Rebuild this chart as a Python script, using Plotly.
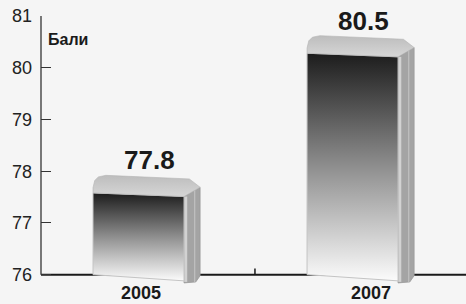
import plotly.graph_objects as go

categories = ["2005", "2007"]
values = [77.8, 80.5]
y_ticks = [76, 77, 78, 79, 80, 81]
y_title = "Бали"

FONT = "Liberation Sans"
BG = "#f5f5f5"

# style constants (geometry in axis units)
HALF_W = 0.2126
SIDE_W = 0.075
FRONT_DROP = 0.22
CAP_RISE = 0.12
SLANT = 0.07
BASE = 76.0

fig = go.Figure()

for i, (cat, v) in enumerate(zip(categories, values)):
    c = i
    fl, fr = c - HALF_W, c + HALF_W
    sr = fr + SIDE_W
    ft = v - FRONT_DROP
    ftr = ft - SLANT
    ct = v + CAP_RISE
    ctr = ct - SLANT
    bl, br = BASE, BASE - 0.12

    # side panel
    sx = [fr, fr, sr, sr, sr - 0.02, fr, fr]
    sy = [br, ftr, ctr - 0.16, BASE - 0.02, BASE - 0.14, BASE - 0.16, br]
    fig.add_trace(go.Scatter(x=sx, y=sy, fill="toself", mode="lines",
                             fillcolor="#a4a4a4", line=dict(color="#9a9a9a", width=0.8),
                             hoverinfo="skip", showlegend=False))
    # light strips on the side
    fig.add_trace(go.Scatter(x=[fr + 0.008, fr + 0.008], y=[BASE - 0.14, ftr],
                             mode="lines", line=dict(color="#d2d2d2", width=3),
                             hoverinfo="skip", showlegend=False))
    fig.add_trace(go.Scatter(x=[fr + 0.05, fr + 0.05], y=[BASE - 0.15, ctr - 0.2],
                             mode="lines", line=dict(color="#c6c6c6", width=1),
                             hoverinfo="skip", showlegend=False))

    # front face with vertical gradient
    fx = [fl, fl, fr, fr, fl]
    fy = [bl, ft, ftr, br, bl]
    fig.add_trace(go.Scatter(x=fx, y=fy, fill="toself", mode="lines",
                             line=dict(color="#c4c4c4", width=1),
                             fillgradient=dict(type="vertical", start=br, stop=ft,
                                               colorscale=[[0, "#fbfbfb"], [0.45, "#9a9a9a"],
                                                           [1, "#1c1c1c"]]),
                             hoverinfo="skip", showlegend=False))

    # top cap
    cx = [fl, fl, fl + 0.008, fl + 0.025, fl + 0.06, sr - 0.05, sr, fr, fl]
    cy = [ft, ft + 0.1, ct - 0.1, ct - 0.03, ct, ctr, ctr - 0.16, ftr, ft]
    fig.add_trace(go.Scatter(x=cx, y=cy, fill="toself", mode="lines",
                             line=dict(color="#b4b4b4", width=0.6),
                             fillgradient=dict(type="vertical", start=ftr, stop=ct,
                                               colorscale=[[0, "#d6d6d6"], [1, "#bdbdbd"]]),
                             hoverinfo="skip", showlegend=False))

    # value label
    fig.add_annotation(x=c, y=ct, text=f"<b>{v}</b>", showarrow=False,
                       xanchor="center", yanchor="bottom", xshift=11, yshift=-2,
                       font=dict(family=FONT, size=26, color="#1a1a1a"))

label_xshift = [2, 18]
for i, cat in enumerate(categories):
    fig.add_annotation(x=i, y=0, yref="paper", text=f"<b>{cat}</b>", showarrow=False,
                       xanchor="center", yanchor="middle", xshift=label_xshift[i], yshift=-8,
                       borderpad=0,
                       font=dict(family=FONT, size=18, color="#1a1a1a"))

fig.add_annotation(x=0, xref="paper", y=80.55, text=f"<b>{y_title}</b>", showarrow=False,
                   xanchor="left", yanchor="middle", xshift=5,
                   font=dict(family=FONT, size=16, color="#1a1a1a"))

# axis lines
fig.add_shape(type="line", xref="paper", x0=0, x1=1, yref="y", y0=BASE, y1=BASE,
              line=dict(color="#1a1a1a", width=2), layer="below")
fig.add_shape(type="line", xref="paper", x0=0, x1=0, yref="y", y0=BASE, y1=81,
              line=dict(color="#333333", width=1.3), layer="below")
fig.add_shape(type="line", x0=0.544, x1=0.544, yref="y", y0=BASE, y1=BASE + 0.12,
              line=dict(color="#1a1a1a", width=1.5), layer="below")

fig.update_layout(
    width=466, height=304,
    margin=dict(l=41, r=0, t=16, b=19),
    paper_bgcolor=BG, plot_bgcolor=BG,
    showlegend=False,
    xaxis=dict(range=[-0.4556, 1.530], visible=False, fixedrange=True),
    yaxis=dict(range=[75.8, 81.0], tickvals=y_ticks, ticktext=[str(t) for t in y_ticks],
               ticks="inside", ticklen=10, tickwidth=1.2, tickcolor="#333333",
               showgrid=False, zeroline=False, showline=False,
               tickfont=dict(family=FONT, size=18, color="#222222"),
               ticklabelstandoff=8, fixedrange=True),
)

fig.write_html("out.html", config={"displayModeBar": False},
               post_script="document.body.style.margin='0px';document.body.style.overflow='hidden';")
